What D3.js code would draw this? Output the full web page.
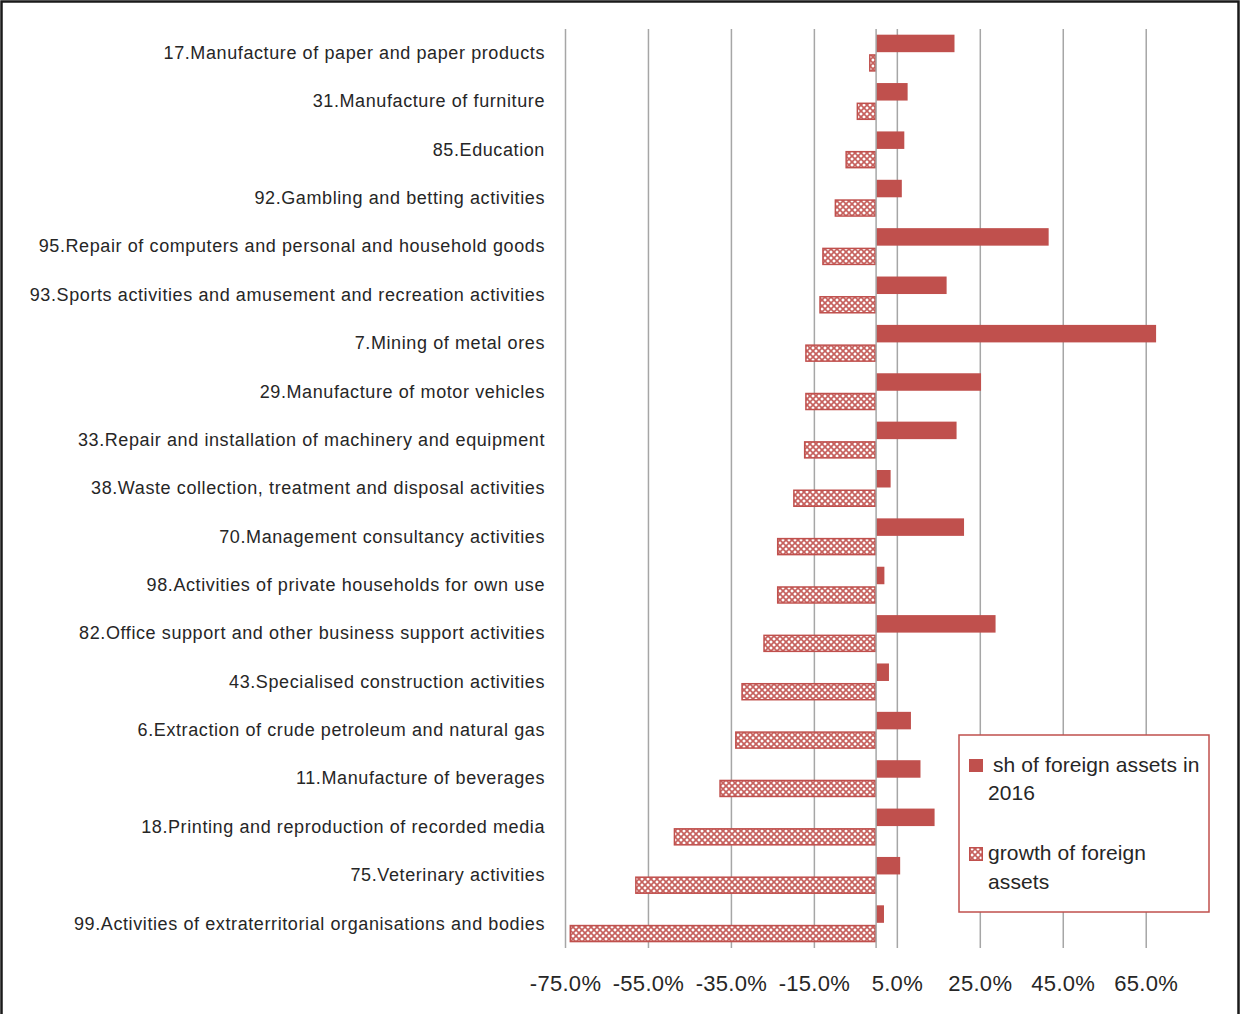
<!DOCTYPE html>
<html>
<head>
<meta charset="utf-8">
<script src="https://cdn.jsdelivr.net/npm/d3@7"></script>
<style>
	body { margin: 0; background: white; }
	svg text { font-family: "Liberation Sans", Arial, sans-serif; fill: #262626; }
</style>
</head>
<body>
<script>
let width = 1241
let height = 1014

// Data (percent)
let categories = [
	"17.Manufacture of paper and paper products",
	"31.Manufacture of furniture",
	"85.Education",
	"92.Gambling and betting activities",
	"95.Repair of computers and personal and household goods",
	"93.Sports activities and amusement and recreation activities",
	"7.Mining of metal ores",
	"29.Manufacture of motor vehicles",
	"33.Repair and installation of machinery and equipment",
	"38.Waste collection, treatment and disposal activities",
	"70.Management consultancy activities",
	"98.Activities of private households for own use",
	"82.Office support and other business support activities",
	"43.Specialised construction activities",
	"6.Extraction of crude petroleum and natural gas",
	"11.Manufacture of beverages",
	"18.Printing and reproduction of recorded media",
	"75.Veterinary activities",
	"99.Activities of extraterritorial organisations and bodies"
]
let shareValues = [18.9, 7.6, 6.8, 6.2, 41.6, 17.0, 67.5, 25.3, 19.4, 3.5, 21.2, 2.0, 28.8, 3.1, 8.4, 10.7, 14.1, 5.8, 1.9]
let growthValues = [-1.7, -4.7, -7.4, -10.0, -13.0, -13.7, -17.1, -17.1, -17.4, -20.0, -23.9, -23.9, -27.2, -32.5, -34.0, -37.8, -48.8, -58.1, -73.9]
let tickValues = [-75, -55, -35, -15, 5, 25, 45, 65]

let red = "#c0504d"
let gridColor = "#a6a6a6"

let svg = d3.select("body")
	.append("svg")
	.attr("width", width)
	.attr("height", height)

// hatch pattern for growth bars
let defs = svg.append("defs")
let pat = defs.append("pattern")
	.attr("id", "hatch")
	.attr("patternUnits", "userSpaceOnUse")
	.attr("width", 6)
	.attr("height", 6)
pat.append("rect").attr("width", 6).attr("height", 6).attr("fill", "white")
pat.append("path")
	.attr("d", "M0,0L6,6M6,0L0,6")
	.attr("stroke", red)
	.attr("stroke-width", 1.7)
	.attr("stroke-opacity", 0.9)

// outer frame
svg.append("rect")
	.attr("x", 1.5)
	.attr("y", 1.5)
	.attr("width", width - 4)
	.attr("height", height + 10)
	.attr("fill", "none")
	.attr("stroke", "#1a1a1a")
	.attr("stroke-width", 2.5)

let plotTop = 29
let plotBottom = 948

let x = d3.scaleLinear()
	.domain([-75, 75])
	.range([565, 565 + 150 * 4.148])

let y = d3.scaleBand()
	.domain(categories)
	.range([plotTop, plotBottom])

let barH = 17.5
let gap = 2

// gridlines
svg.append("g")
	.attr("transform", "translate(0," + plotBottom + ")")
	.call(d3.axisBottom(x)
		.tickValues(tickValues)
		.tickSize(-(plotBottom - plotTop))
		.tickFormat(""))
	.call(g => g.select(".domain").remove())
	.call(g => g.selectAll("line").attr("stroke", gridColor).attr("stroke-width", 1.5))

// tick labels
svg.append("g")
	.attr("transform", "translate(0," + plotBottom + ")")
	.call(d3.axisBottom(x)
		.tickValues(tickValues)
		.tickSize(0)
		.tickPadding(0)
		.tickFormat(d => d.toFixed(1) + "%"))
	.call(g => g.select(".domain").remove())
	.call(g => g.selectAll("text")
		.attr("dy", null)
		.attr("y", 43)
		.attr("font-size", 22)
		.attr("letter-spacing", 0.3)
		.attr("font-family", "Liberation Sans, Arial, sans-serif")
		.attr("fill", "#262626"))

// share bars
svg.selectAll(".share")
	.data(shareValues)
	.enter()
	.append("rect")
	.attr("class", "share")
	.attr("x", x(0))
	.attr("y", (d, i) => y(categories[i]) + y.bandwidth() / 2 - barH - gap / 2)
	.attr("width", d => x(d) - x(0))
	.attr("height", barH)
	.attr("fill", red)

// growth bars
svg.selectAll(".growth")
	.data(growthValues)
	.enter()
	.append("rect")
	.attr("class", "growth")
	.attr("x", d => x(d) + 0.75)
	.attr("y", (d, i) => y(categories[i]) + y.bandwidth() / 2 + gap / 2 + 0.75)
	.attr("width", d => x(0) - x(d) - 1.5)
	.attr("height", barH - 1.5)
	.attr("fill", "url(#hatch)")
	.attr("stroke", red)
	.attr("stroke-width", 1.5)

// zero axis line
svg.append("line")
	.attr("x1", x(0))
	.attr("x2", x(0))
	.attr("y1", plotTop)
	.attr("y2", plotBottom)
	.attr("stroke", gridColor)
	.attr("stroke-width", 1.5)

// category labels
svg.append("g")
	.attr("transform", "translate(" + x(-75) + ",0)")
	.call(d3.axisLeft(y).tickSize(0).tickPadding(20))
	.call(g => g.select(".domain").remove())
	.call(g => g.selectAll("text")
		.attr("font-size", 18)
		.attr("letter-spacing", 0.6)
		.attr("font-family", "Liberation Sans, Arial, sans-serif")
		.attr("fill", "#262626"))

// legend
let legend = svg.append("g")
legend.append("rect")
	.attr("x", 959)
	.attr("y", 735)
	.attr("width", 250)
	.attr("height", 177)
	.attr("fill", "white")
	.attr("stroke", red)
	.attr("stroke-width", 1.5)

legend.append("rect")
	.attr("x", 969).attr("y", 759)
	.attr("width", 14).attr("height", 13)
	.attr("fill", red)
legend.append("rect")
	.attr("x", 969.75).attr("y", 847.75)
	.attr("width", 12.5).attr("height", 12.5)
	.attr("fill", "url(#hatch)")
	.attr("stroke", red)
	.attr("stroke-width", 1.5)

let legendLines = [
	{t: "sh of foreign assets in", x: 993, y: 772},
	{t: "2016", x: 988, y: 800},
	{t: "growth of foreign", x: 988, y: 860},
	{t: "assets", x: 988, y: 889}
]
legend.selectAll(".lt")
	.data(legendLines)
	.enter()
	.append("text")
	.attr("class", "lt")
	.attr("x", d => d.x)
	.attr("y", d => d.y)
	.attr("font-size", 21)
	.attr("letter-spacing", 0.1)
	.text(d => d.t)
</script>
</body>
</html>
